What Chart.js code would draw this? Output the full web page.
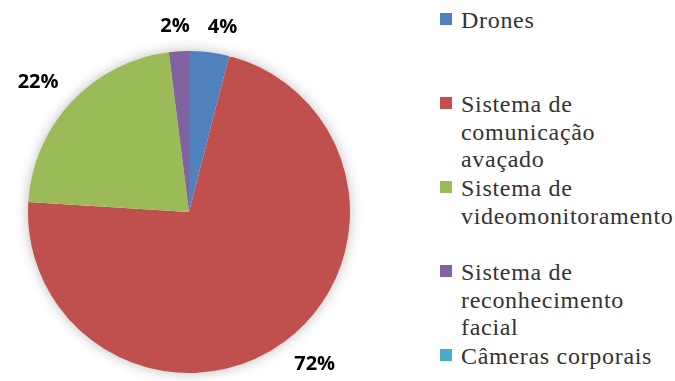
<!DOCTYPE html>
<html lang="pt">
<head>
  <meta charset="UTF-8" />
  <title>Tecnologias</title>
  <script src="https://cdn.jsdelivr.net/npm/chart.js"></script>
  <style>
    html, body {
      margin: 0;
      padding: 0;
      background: #fff;
      overflow: hidden;
    }

    #wrap {
      position: relative;
      width: 675px;
      height: 381px;
    }

    #pieBox {
      position: absolute;
      left: 0;
      top: 0;
      width: 378px;
      height: 381px;
    }

    #legend {
      position: absolute;
      left: 440px;
      top: 0;
      width: 240px;
      height: 381px;
      font-family: "Liberation Serif", "Times New Roman", serif;
      font-size: 24px;
      line-height: 27.5px;
      letter-spacing: 0.7px;
      color: #333;
    }

    .item {
      position: absolute;
      left: 0;
    }

    .item .box {
      position: absolute;
      left: 0;
      top: 6px;
      width: 12px;
      height: 12px;
    }

    .item .txt {
      margin-left: 21px;
      width: 218px;
    }
  </style>
</head>
<body>
  <div id="wrap">
    <div id="pieBox"><canvas id="pie"></canvas></div>
    <div id="legend"></div>
  </div>

  <script>
    const categories = [
      'Drones',
      'Sistema de comunicação avaçado',
      'Sistema de videomonitoramento',
      'Sistema de reconhecimento facial',
      'Câmeras corporais'
    ];
    const shares = [4, 72, 22, 2, 0];
    const sliceColors = ['#4F81BD', '#C0504D', '#9BBB59', '#8064A2', '#4BACC6'];

    // legend on the right, entries spread evenly down the column
    const legend = document.getElementById('legend');
    categories.forEach((name, i) => {
      const item = document.createElement('div');
      item.className = 'item';
      item.style.top = (7 + i * 84) + 'px';
      item.innerHTML = '<span class="box" style="background:' + sliceColors[i] + '"></span>' +
        '<div class="txt">' + name + '</div>';
      legend.appendChild(item);
    });

    // soft shadow under the whole pie
    const pieShadow = {
      id: 'pieShadow',
      beforeDatasetsDraw(chart) {
        const arc = chart.getDatasetMeta(0).data[0];
        if (!arc) return;
        const ctx = chart.ctx;
        ctx.save();
        ctx.shadowColor = 'rgba(0,0,0,0.3)';
        ctx.shadowBlur = 14;
        ctx.fillStyle = '#fff';
        ctx.beginPath();
        ctx.arc(arc.x, arc.y, arc.outerRadius - 1, 0, Math.PI * 2);
        ctx.fill();
        ctx.restore();
      }
    };

    const clamp = (t) => Math.max(-1, Math.min(1, t));

    // percentage labels outside each slice
    const outsideLabels = {
      id: 'outsideLabels',
      afterDraw(chart) {
        const ctx = chart.ctx;
        const meta = chart.getDatasetMeta(0);
        ctx.save();
        ctx.font = 'bold 20px "Open Sans", sans-serif';
        ctx.fillStyle = '#000';
        ctx.textAlign = 'center';
        ctx.textBaseline = 'middle';

        const boxes = [];
        meta.data.forEach((arc, i) => {
          const v = shares[i];
          if (!v) return;
          const text = v + '%';
          const mid = (arc.startAngle + arc.endAngle) / 2;
          const dx = Math.cos(mid), dy = Math.sin(mid);
          const hw = ctx.measureText(text).width / 2, hh = 7;
          const d = arc.outerRadius + 18;
          boxes.push({
            text, hw,
            x: arc.x + dx * d + clamp(dx * 3) * hw,
            y: arc.y + dy * d + clamp(dy * 3) * hh
          });
        });

        // keep labels that sit side by side from crowding each other
        boxes.sort((a, b) => a.x - b.x);
        for (let i = 1; i < boxes.length; i++) {
          const a = boxes[i - 1], b = boxes[i];
          if (Math.abs(a.y - b.y) < 20) {
            const minX = a.x + a.hw + 18 + b.hw;
            if (b.x < minX) b.x = minX;
          }
        }
        boxes.forEach(b => ctx.fillText(b.text, b.x, b.y));
        ctx.restore();
      }
    };

    new Chart(document.getElementById('pie'), {
      type: 'pie',
      data: {
        labels: categories,
        datasets: [{
          data: shares,
          backgroundColor: sliceColors,
          borderWidth: 0
        }]
      },
      options: {
        responsive: true,
        maintainAspectRatio: false,
        animation: false,
        layout: { padding: { left: 28, right: 28, top: 51, bottom: 8 } },
        plugins: {
          legend: { display: false },
          tooltip: { enabled: false }
        }
      },
      plugins: [pieShadow, outsideLabels]
    });
  </script>
</body>
</html>
